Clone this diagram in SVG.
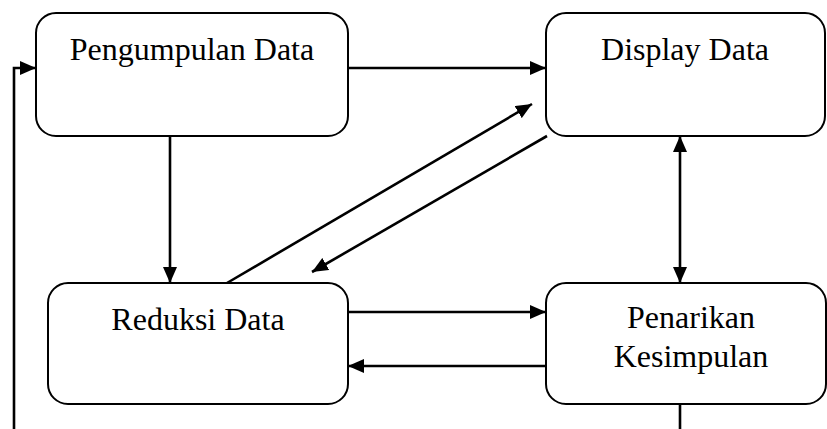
<svg xmlns="http://www.w3.org/2000/svg" width="827" height="429" viewBox="0 0 827 429">
<style>
.box{fill:#fff;stroke:#000;stroke-width:2}
.lbl{font-family:"Liberation Serif","Times New Roman",serif;font-size:32px;fill:#000;text-anchor:middle}
.ln{fill:none;stroke:#000;stroke-width:2.6}
</style>
<defs>
<marker id="ah" viewBox="0 0 16 14" refX="16" refY="7" markerWidth="16" markerHeight="14" markerUnits="userSpaceOnUse" orient="auto-start-reverse">
<path d="M0,0 L16,7 L0,14 z" fill="#000"/>
</marker>
</defs>
<rect width="827" height="429" fill="#fff"/>
<g id="connectors">
<line class="ln" x1="348" y1="68" x2="546" y2="68" marker-end="url(#ah)"/>
<polyline class="ln" points="14,429 14,68 36,68" marker-end="url(#ah)"/>
<line class="ln" x1="170" y1="136" x2="170" y2="283" marker-end="url(#ah)"/>
<line class="ln" x1="227" y1="283" x2="532" y2="104" marker-end="url(#ah)"/>
<line class="ln" x1="547" y1="136" x2="312" y2="272" marker-end="url(#ah)"/>
<line class="ln" x1="680" y1="136" x2="680" y2="283" marker-start="url(#ah)" marker-end="url(#ah)"/>
<line class="ln" x1="348" y1="312" x2="546" y2="312" marker-end="url(#ah)"/>
<line class="ln" x1="546" y1="366" x2="348" y2="366" marker-end="url(#ah)"/>
<line class="ln" x1="680" y1="404" x2="680" y2="429"/>
</g>
<g id="pengumpulan">
<rect class="box" x="36" y="13" width="312" height="123" rx="20" ry="20"/>
<text class="lbl" x="192" y="60">Pengumpulan Data</text>
</g>
<g id="display">
<rect class="box" x="546" y="13" width="279" height="123" rx="20" ry="20"/>
<text class="lbl" x="685" y="60">Display Data</text>
</g>
<g id="reduksi">
<rect class="box" x="48" y="283" width="300" height="121" rx="20" ry="20"/>
<text class="lbl" x="198" y="330">Reduksi Data</text>
</g>
<g id="penarikan">
<rect class="box" x="546" y="283" width="280" height="121" rx="20" ry="20"/>
<text class="lbl" x="691" y="328">Penarikan</text>
<text class="lbl" x="691" y="367">Kesimpulan</text>
</g>
</svg>
